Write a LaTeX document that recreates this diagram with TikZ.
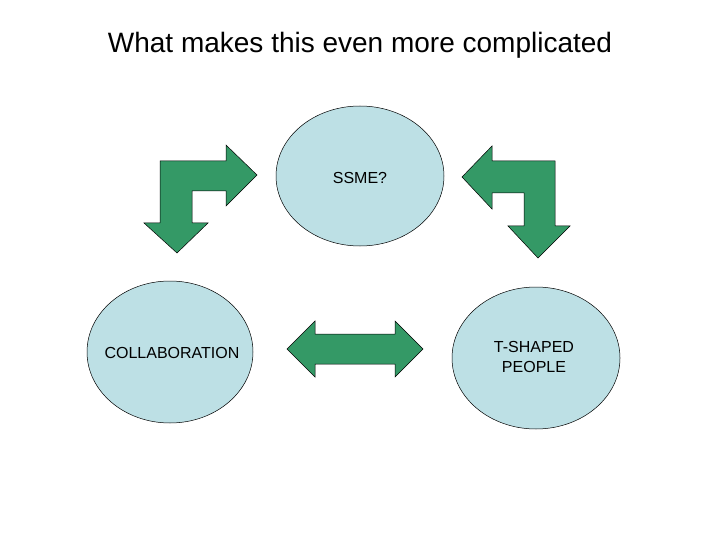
\documentclass[tikz,border=0pt]{standalone}
\usepackage{fontspec}
\setmainfont{Liberation Sans}
\begin{document}
\begin{tikzpicture}[x=1pt,y=-1pt,
  blob/.style={draw=black,fill={rgb,255:red,189;green,224;blue,229},line width=0.5pt},
  garrow/.style={draw=black,fill={rgb,255:red,52;green,153;blue,102},line width=0.5pt},
  lbl/.style={font=\fontsize{16pt}{20pt}\selectfont,align=center}]
\useasboundingbox (0,0) rectangle (720,540);
\node[font=\fontsize{28pt}{32pt}\selectfont] (title) at (360,45) {What makes this even more complicated};
\draw[blob] (360,176) ellipse [x radius=84, y radius=70];
\node[lbl] (ssme) at (360,178) {SSME?};
\draw[blob] (170,352) ellipse [x radius=83, y radius=71];
\node[lbl] (collab) at (172,353) {COLLABORATION};
\draw[blob] (536,358) ellipse [x radius=84, y radius=71];
\node[lbl] (tshaped) at (534,357) {T-SHAPED\\ PEOPLE};
\draw[garrow] (160,161) -- (226,161) -- (226,145) -- (257,175) -- (226,206) -- (226,191) -- (192,191) -- (192,223) -- (208,223) -- (177,253) -- (144,223) -- (160,223) -- cycle;
\draw[garrow] (555,161) -- (492,161) -- (492,146) -- (462,177) -- (492,209) -- (492,193) -- (524,193) -- (524,226) -- (508,226) -- (538,258) -- (570,226) -- (555,226) -- cycle;
\draw[garrow] (287,349) -- (315,321) -- (315,334) -- (395,334) -- (395,321) -- (423,349) -- (395,377) -- (395,364) -- (315,364) -- (315,377) -- cycle;
\end{tikzpicture}
\end{document}
